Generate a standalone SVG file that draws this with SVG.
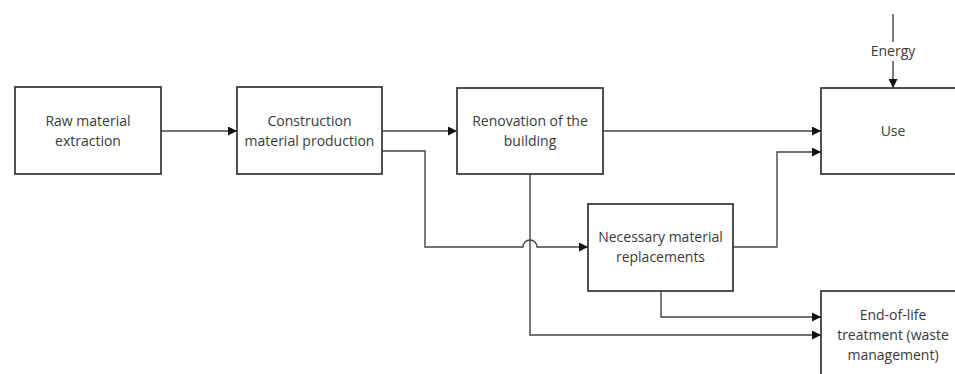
<svg xmlns="http://www.w3.org/2000/svg" width="955" height="374" viewBox="0 0 955 374">
<defs>
<marker id="ah" viewBox="0 0 10 10" refX="10" refY="5" markerWidth="11" markerHeight="9" markerUnits="userSpaceOnUse" orient="auto">
<path d="M0,0 L10,5 L0,10 z" fill="#111"/>
</marker>
</defs>
<style>
.box{fill:#fff;stroke:#333;stroke-width:1.7}
.lbl{font-family:"Open Sans","Liberation Sans",sans-serif;font-size:14px;fill:#3a3a3a;text-anchor:middle}
.c{fill:none;stroke:#444;stroke-width:1.4;marker-end:url(#ah)}
.p{fill:none;stroke:#444;stroke-width:1.4}
</style>
<rect width="955" height="374" fill="#fff"/>
<g id="connectors">
<path class="c" d="M161,131 H237"/>
<path class="c" d="M382,131 H457"/>
<path class="c" d="M603,131 H821"/>
<path class="c" d="M382,151 H425 V247 H523 A7,7 0 0 1 537,247 H588"/>
<path class="c" d="M733,247 H777 V152 H821"/>
<path class="c" d="M530,174 V335 H821"/>
<path class="c" d="M661,291 V317 H821"/>
<path class="p" d="M893,14 V42"/>
<path class="c" d="M893,61 V88"/>
<text class="lbl" x="893" y="56">Energy</text>
</g>
<g id="raw">
<rect class="box" x="15" y="87" width="146" height="87"/>
<text class="lbl" x="88" y="126">Raw material</text>
<text class="lbl" x="88" y="146">extraction</text>
</g>
<g id="construction">
<rect class="box" x="237" y="87" width="145" height="87"/>
<text class="lbl" x="309.5" y="126">Construction</text>
<text class="lbl" x="309.5" y="146">material production</text>
</g>
<g id="renovation">
<rect class="box" x="457" y="88" width="146" height="86"/>
<text class="lbl" x="530" y="126">Renovation of the</text>
<text class="lbl" x="530" y="146">building</text>
</g>
<g id="use">
<rect class="box" x="821" y="88" width="146" height="86"/>
<text class="lbl" x="893" y="136">Use</text>
</g>
<g id="replacements">
<rect class="box" x="588" y="204" width="145" height="87"/>
<text class="lbl" x="660.5" y="242">Necessary material</text>
<text class="lbl" x="660.5" y="262">replacements</text>
</g>
<g id="eol">
<rect class="box" x="821" y="291" width="146" height="100"/>
<text class="lbl" x="893" y="320">End-of-life</text>
<text class="lbl" x="893" y="340">treatment (waste</text>
<text class="lbl" x="893" y="360">management)</text>
</g>
</svg>
